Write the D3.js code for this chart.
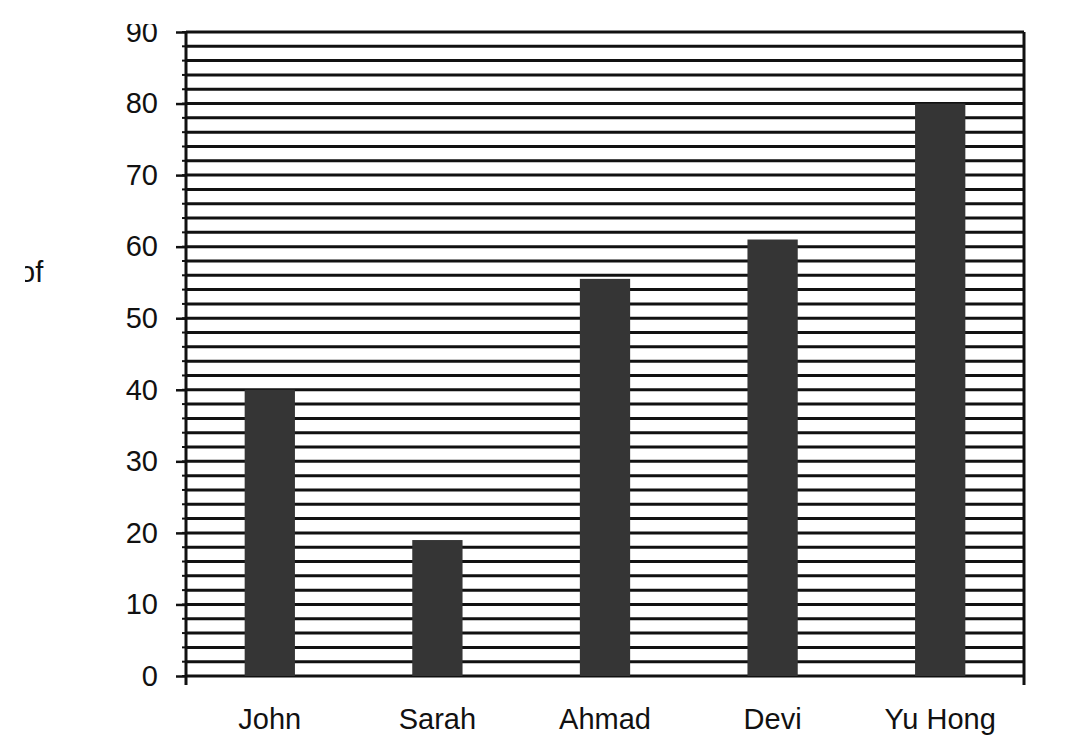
<!DOCTYPE html>
<html>
<head>
<meta charset="utf-8">
<script src="https://cdn.jsdelivr.net/npm/d3@7"></script>
<style>
  html, body { margin: 0; padding: 0; background: #fff; }
  svg { display: block; }
  text { font-family: "Liberation Sans", Arial, sans-serif; fill: #111; }
</style>
</head>
<body>
<svg id="chart" width="1067" height="756"></svg>
<script>
const categories = ["John", "Sarah", "Ahmad", "Devi", "Yu Hong"];
const values = [40, 19, 55.5, 61, 80];
const yTicks = [0, 10, 20, 30, 40, 50, 60, 70, 80, 90];
const yMinorStep = 2;
const yMax = 90;
const axisTitleFragment = "of";

const svg = d3.select("#chart");
const plotLeft = 186, plotRight = 1024, plotTop = 32, plotBottom = 676;

const x = d3.scaleBand().domain(categories).range([plotLeft, plotRight]).paddingInner(0.7).paddingOuter(0.35);
const y = d3.scaleLinear().domain([0, yMax]).range([plotBottom, plotTop]);

const defs = svg.append("defs");
defs.append("clipPath").attr("id", "leftclip")
  .append("rect").attr("x", 25).attr("y", 0).attr("width", 1067).attr("height", 756);
defs.append("clipPath").attr("id", "topclip")
  .append("rect").attr("x", -300).attr("y", 24).attr("width", 1400).attr("height", 756);

// gridlines every 2 units
const minor = d3.range(0, yMax + 0.001, yMinorStep);
svg.append("g").selectAll("line").data(minor).join("line")
  .attr("x1", plotLeft).attr("x2", plotRight)
  .attr("y1", d => y(d)).attr("y2", d => y(d))
  .attr("stroke", "#111").attr("stroke-width", 3);

// bars
svg.append("g").selectAll("rect").data(categories).join("rect")
  .attr("x", d => x(d))
  .attr("width", x.bandwidth())
  .attr("y", (d, i) => y(values[i]))
  .attr("height", (d, i) => y(0) - y(values[i]))
  .attr("fill", "#353535");

// frame vertical lines
svg.append("line").attr("x1", plotLeft).attr("x2", plotLeft).attr("y1", y(yMax)).attr("y2", plotBottom + 9)
  .attr("stroke", "#111").attr("stroke-width", 3);
svg.append("line").attr("x1", plotRight).attr("x2", plotRight).attr("y1", y(yMax)).attr("y2", plotBottom + 9)
  .attr("stroke", "#111").attr("stroke-width", 3);

// y axis via d3 axis: major ticks outward
const yAxis = d3.axisLeft(y).tickValues(yTicks).tickSize(10).tickPadding(18).tickFormat(d3.format("d"));
const gy = svg.append("g").attr("transform", `translate(${plotLeft},0)`).call(yAxis);
gy.select(".domain").remove();
gy.selectAll(".tick line").attr("stroke", "#111").attr("stroke-width", 2.5);
gy.selectAll(".tick text")
  .style("font-family", '"Liberation Sans", Arial, sans-serif')
  .style("font-size", "29px").attr("fill", "#111");
gy.attr("clip-path", "url(#topclip)");

// minor tick notches
svg.append("g").selectAll("line").data(minor).join("line")
  .attr("x1", plotLeft - 4).attr("x2", plotLeft)
  .attr("y1", d => y(d)).attr("y2", d => y(d))
  .attr("stroke", "#111").attr("stroke-width", 2);

// x axis labels
const xAxis = d3.axisBottom(x).tickSize(0).tickPadding(32);
const gx = svg.append("g").attr("transform", `translate(0,${plotBottom})`).call(xAxis);
gx.select(".domain").remove();
gx.selectAll(".tick text")
  .style("font-family", '"Liberation Sans", Arial, sans-serif')
  .style("font-size", "29px").attr("fill", "#111");

// cropped axis title fragment
svg.append("text").attr("x", 19).attr("y", 282)
  .attr("clip-path", "url(#leftclip)")
  .style("font-size", "29px")
  .text(axisTitleFragment);
</script>
</body>
</html>
